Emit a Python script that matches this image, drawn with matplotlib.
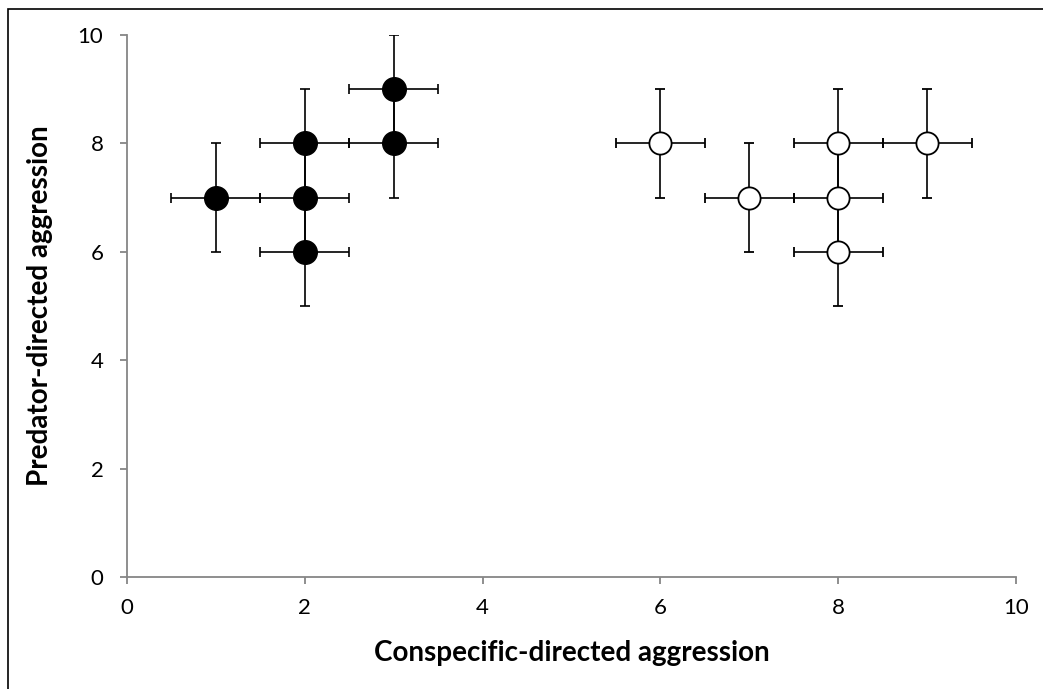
import matplotlib.pyplot as plt
from matplotlib.patches import Rectangle

# data: group 1 (filled), group 2 (open)
x_filled = [1, 2, 2, 2, 3, 3]
y_filled = [7, 6, 7, 8, 8, 9]
x_open = [6, 7, 8, 8, 8, 9]
y_open = [8, 7, 6, 7, 8, 8]
x_err = 0.5
y_err = 1

plt.rcParams['font.family'] = ['Lato', 'DejaVu Sans']

fig = plt.figure(figsize=(10.43, 6.89), dpi=100)
ax = fig.add_axes([0.1218, 0.1626, 0.8523, 0.7866])

# figure border
fig.patches.append(Rectangle((8 / 1043, -0.1), 1.2, 1.1 - 9 / 689, transform=fig.transFigure,
                             fill=False, edgecolor='black', linewidth=1.2))

ax.errorbar(x_filled, y_filled, xerr=x_err, yerr=y_err, fmt='o', color='black',
            markersize=17, markerfacecolor='black', markeredgecolor='black',
            elinewidth=1.2, capsize=3.5, capthick=1.2, zorder=3)
ax.errorbar(x_open, y_open, xerr=x_err, yerr=y_err, fmt='o', color='black',
            markersize=16, markerfacecolor='white', markeredgecolor='black',
            markeredgewidth=1.3, elinewidth=1.2, capsize=3.5, capthick=1.2, zorder=3)

ax.set_xlim(0, 10)
ax.set_ylim(0, 10)
ax.set_xticks([0, 2, 4, 6, 8, 10])
ax.set_yticks([0, 2, 4, 6, 8, 10])

for s in ['top', 'right']:
    ax.spines[s].set_visible(False)
for s in ['left', 'bottom']:
    ax.spines[s].set_color('#868686')
    ax.spines[s].set_linewidth(1.3)
ax.tick_params(colors='#868686', labelcolor='black', labelsize=16, length=5, width=1.3)
ax.tick_params(axis='x', pad=10)
ax.tick_params(axis='y', pad=12)

ax.set_xlabel('Conspecific-directed aggression', fontsize=20, fontweight='bold', labelpad=16)
ax.set_ylabel('Predator-directed aggression', fontsize=20, fontweight='bold', labelpad=18)

fig.savefig('out.png', dpi=100)
